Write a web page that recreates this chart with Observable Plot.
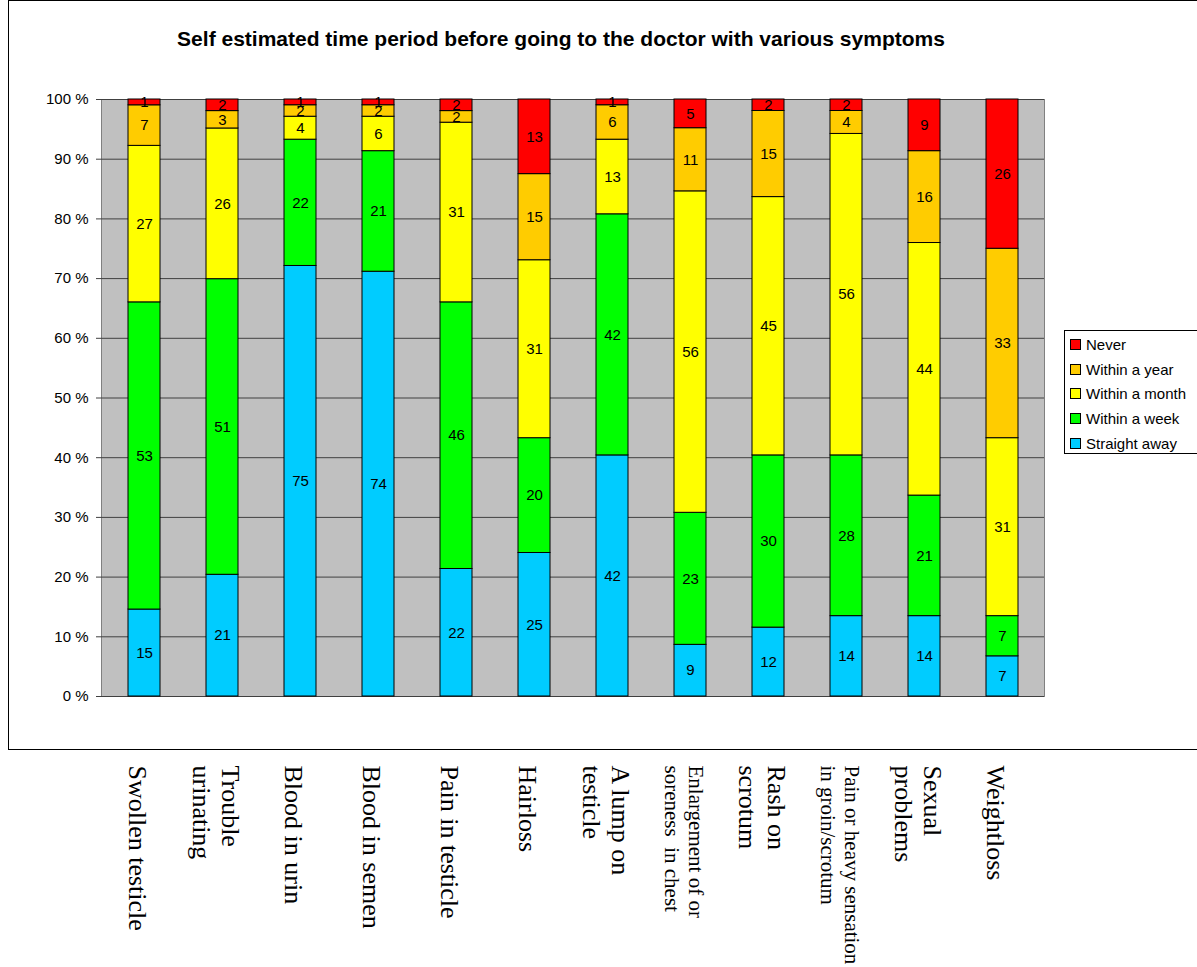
<!DOCTYPE html>
<html>
<head>
<meta charset="utf-8">
<script src="https://cdn.jsdelivr.net/npm/d3@7"></script>
<script src="https://cdn.jsdelivr.net/npm/@observablehq/plot@0.6"></script>
<style>
  body { margin: 0; background: #fff; }
  #wrap { position: relative; width: 1197px; height: 967px; overflow: hidden; font-family: "Liberation Sans", Arial, sans-serif; }
  #frame { position: absolute; left: 8px; top: 0px; width: 1300px; height: 750px; border: 1px solid #000; box-sizing: border-box; }
  #title { position: absolute; left: 0; top: 27px; width: 1122px; text-align: center; font-weight: bold; font-size: 21px; }
  #chart { position: absolute; left: 0; top: 0; }
  #legend { position: absolute; left: 1064px; top: 330px; width: 140px; height: 124px; border: 1px solid #000; box-sizing: border-box; background: #fff; padding-top: 1px; }
  .item { height: 24.8px; display: flex; align-items: center; font-size: 15px; }
  .sw { width: 9px; height: 9px; border: 1px solid #000; margin-left: 5px; margin-right: 5px; }
</style>
</head>
<body>
<div id="wrap">
  <div id="frame"></div>
  <div id="chart"></div>
  <div id="title"></div>
  <div id="legend"></div>
</div>
<script>
const title = "Self estimated time period before going to the doctor with various symptoms";
const categories = [
  "Swollen testicle",
  "Trouble\nurinating",
  "Blood in urin",
  "Blood in semen",
  "Pain in testicle",
  "Hairloss",
  "A lump on\ntesticle",
  "Enlargement of or\nsoreness  in chest",
  "Rash on\nscrotum",
  "Pain or heavy sensation\nin groin/scrotum",
  "Sexual\nproblems",
  "Weightloss"
];
const straightAway = [15, 21, 75, 74, 22, 25, 42, 9, 12, 14, 14, 7];
const withinWeek   = [53, 51, 22, 21, 46, 20, 42, 23, 30, 28, 21, 7];
const withinMonth  = [27, 26, 4, 6, 31, 31, 13, 56, 45, 56, 44, 31];
const withinYear   = [7, 3, 2, 2, 2, 15, 6, 11, 15, 4, 16, 33];
const never        = [1, 2, 1, 1, 2, 13, 1, 5, 2, 2, 9, 26];
const seriesNames  = ["Straight away", "Within a week", "Within a month", "Within a year", "Never"];
const seriesColors = ["#00CCFF", "#00FF00", "#FFFF00", "#FFCC00", "#FF0000"];
const yTicks = [0, 0.1, 0.2, 0.3, 0.4, 0.5, 0.6, 0.7, 0.8, 0.9, 1];

const seriesValues = [straightAway, withinWeek, withinMonth, withinYear, never];
const data = [];
seriesNames.forEach((s, si) => {
  categories.forEach((c, ci) => data.push({cat: c, series: s, value: seriesValues[si][ci]}));
});

document.getElementById("title").textContent = title;

const chart = Plot.plot({
  width: 1197,
  height: 967,
  marginTop: 99,
  marginBottom: 271,
  marginLeft: 101,
  marginRight: 153,
  style: {background: "transparent", fontFamily: "'Liberation Sans', Arial, sans-serif", fontSize: "15px", color: "#000"},
  x: {domain: categories, paddingInner: 0.59, paddingOuter: 0.295, axis: null},
  y: {domain: [0, 1], ticks: yTicks, tickFormat: d => Math.round(d * 100) + " %", label: null},
  color: {domain: seriesNames, range: seriesColors},
  marks: [
    Plot.frame({fill: "#C0C0C0", stroke: "#808080"}),
    Plot.gridY(yTicks, {stroke: "#404040", strokeOpacity: 1}),
    Plot.axisY(yTicks, {tickSize: 5, tickPadding: 8, label: null, tickFormat: d => Math.round(d * 100) + " %", fontSize: 15, stroke: "#404040"}),
    Plot.barY(data, Plot.stackY({x: "cat", y: "value", fill: "series", offset: "normalize", stroke: "#000", strokeWidth: 1})),
    Plot.text(data, Plot.stackY({x: "cat", y: "value", text: "value", offset: "normalize", fill: "#000", fontSize: 15})),
    Plot.text(categories, {
      x: d => d,
      text: d => d,
      frameAnchor: "bottom",
      dy: 69,
      dx: -6,
      rotate: 90,
      textAnchor: "start",
      lineAnchor: "middle",
      lineHeight: 1.12,
      fontFamily: "'Liberation Serif', 'Times New Roman', serif",
      fontSize: d => d.length > 20 ? 21 : 26,
      fill: "#000"
    })
  ]
});
document.getElementById("chart").appendChild(chart);

const legend = document.getElementById("legend");
seriesNames.slice().reverse().forEach((name, i) => {
  const color = seriesColors[seriesNames.length - 1 - i];
  const row = document.createElement("div");
  row.className = "item";
  const sw = document.createElement("span");
  sw.className = "sw";
  sw.style.background = color;
  const t = document.createElement("span");
  t.textContent = name;
  row.appendChild(sw);
  row.appendChild(t);
  legend.appendChild(row);
});
</script>
</body>
</html>
